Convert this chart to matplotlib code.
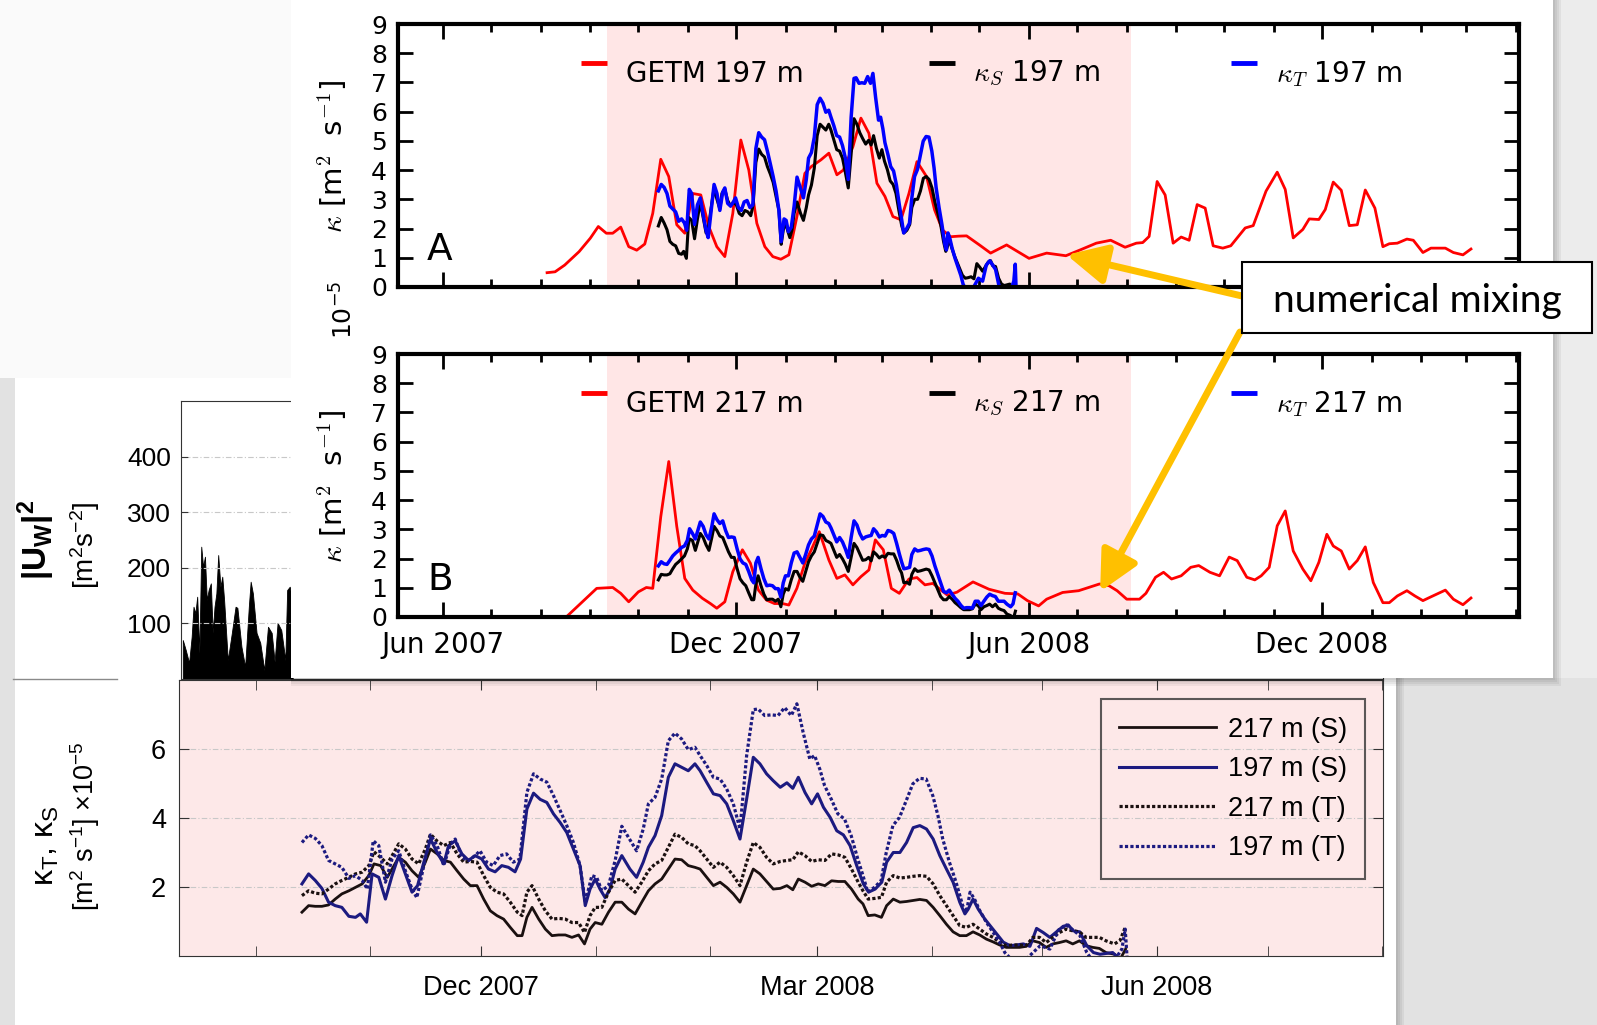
import datetime as dt
import numpy as np
import matplotlib
matplotlib.use('Agg')
import matplotlib.pyplot as plt
import matplotlib.dates as mdates
from matplotlib.patches import Rectangle
from matplotlib.lines import Line2D

W, H = 1597, 1025
t0 = mdates.date2num(dt.datetime(2007, 6, 1))   # day 0 of every series below

# ---------------- data: (days since 1 Jun 2007, value) ----------------
getm197 = np.array([
    (65, 0.49), (70, 0.52), (76, 0.75), (85, 1.21), (92, 1.67), (97, 2.07), (102, 1.84),
    (106, 1.84), (111, 2.05), (116, 1.38), (121, 1.26), (126, 1.47), (131, 2.52), (136, 4.37),
    (141, 3.78), (146, 2.13), (151, 1.84), (156, 3.2), (161, 3.15), (166, 2.07), (171, 1.38),
    (176, 1.04), (181, 2.52), (186, 5.03), (191, 4.0), (196, 2.18), (201, 1.38), (206, 1.04),
    (211, 0.95), (216, 1.1), (221, 2.4), (226, 3.89), (230, 4.12), (236, 4.35), (241, 4.58),
    (246, 3.84), (250, 4.0), (256, 4.8), (261, 5.78), (266, 5.26), (271, 3.55), (276, 3.1),
    (281, 2.41), (286, 2.3), (291, 3.2), (296, 4.29), (302, 3.78), (307, 2.64), (312, 1.95),
    (317, 1.72), (322, 1.74), (327, 1.75), (335, 1.44), (342, 1.16), (352, 1.44), (366, 0.98),
    (377, 1.16), (389, 1.07), (398, 1.27), (408, 1.5), (417, 1.6), (426, 1.36), (433, 1.5),
    (437, 1.52), (441, 1.73), (446, 3.61), (451, 3.15), (456, 1.5), (461, 1.71), (466, 1.6),
    (471, 2.82), (476, 2.7), (481, 1.41), (487, 1.33), (492, 1.41), (501, 2.02), (506, 2.1),
    (514, 3.28), (521, 3.93), (526, 3.34), (531, 1.68), (537, 1.97), (541, 2.33), (547, 2.31),
    (551, 2.65), (556, 3.59), (561, 3.31), (566, 2.1), (571, 2.13), (576, 3.32), (582, 2.7),
    (587, 1.38), (591, 1.48), (596, 1.5), (602, 1.64), (606, 1.6), (612, 1.18), (617, 1.33),
    (626, 1.33), (631, 1.18), (637, 1.1), (642, 1.3)])

getm217 = np.array([
    (76, -0.05), (96, 0.98), (106, 1.01), (111, 0.81), (116, 0.52), (122, 0.86), (127, 1.01),
    (131, 0.98), (136, 3.43), (141, 5.32), (146, 3.1), (151, 1.32), (156, 0.92), (162, 0.64),
    (167, 0.46), (171, 0.3), (176, 0.52), (181, 1.55), (187, 2.3), (192, 1.84), (197, 0.92),
    (202, 0.58), (207, 0.46), (212, 0.46), (216, 0.41), (221, 0.98), (226, 1.84), (230, 2.3),
    (235, 2.92), (241, 1.95), (246, 1.32), (251, 1.44), (256, 1.1), (261, 1.38), (266, 1.61),
    (270, 2.64), (275, 2.3), (280, 0.98), (285, 0.81), (291, 1.3), (296, 1.35), (301, 1.1),
    (306, 1.15), (311, 0.92), (315, 0.75), (321, 0.85), (331, 1.2), (341, 0.95), (351, 0.81),
    (359, 0.79), (365, 0.56), (372, 0.38), (377, 0.61), (387, 0.84), (397, 0.9), (410, 1.13),
    (416, 1.07), (421, 0.9), (427, 0.61), (435, 0.61), (439, 0.81), (445, 1.36), (450, 1.53),
    (455, 1.3), (461, 1.41), (467, 1.7), (472, 1.76), (479, 1.53), (485, 1.41), (491, 2.05),
    (496, 1.93), (502, 1.36), (507, 1.27), (511, 1.41), (516, 1.7), (521, 3.12), (526, 3.63),
    (531, 2.26), (537, 1.64), (542, 1.24), (547, 1.87), (552, 2.83), (556, 2.43), (561, 2.26),
    (566, 1.64), (571, 1.93), (576, 2.4), (581, 1.18), (587, 0.49), (591, 0.49), (596, 0.72),
    (602, 0.9), (607, 0.72), (612, 0.56), (617, 0.69), (626, 0.92), (631, 0.61), (637, 0.42),
    (642, 0.65)])

ks197 = np.array([
    (134.5, 2.09), (136.3, 2.38), (138.1, 2.19), (139.9, 1.96), (141.7, 1.56), (143.5, 1.46),
    (145.3, 1.41), (147.2, 1.15), (149, 1.12), (150.3, 1.22), (152, 0.98), (153.5, 2.38),
    (155.3, 2.28), (157.1, 1.65), (158.9, 2.33), (160.7, 2.91), (162.5, 2.38), (164.3, 1.85),
    (165.8, 2.04), (167.5, 2.72), (169.3, 3.39), (171.1, 3.0), (172.9, 2.67), (174.2, 3.2),
    (176, 3.34), (177.8, 2.96), (179.6, 2.77), (181.4, 2.91), (183.2, 2.81), (185, 2.52),
    (186.8, 2.44), (188.6, 2.62), (190.4, 2.57), (192.2, 2.44), (193.7, 2.81), (195.4, 4.26),
    (197.2, 4.72), (199, 4.54), (200.8, 4.45), (202.6, 4.12), (204.4, 3.87), (206.2, 3.58),
    (208, 3.1), (209.8, 2.62), (211.2, 1.46), (212.5, 1.94), (213.9, 2.23), (215.2, 1.94),
    (216.6, 1.69), (217.9, 1.94), (219.3, 2.52), (221.1, 2.91), (223.3, 2.52), (225.1, 2.28),
    (226.9, 2.72), (228.3, 3.15), (230.1, 3.49), (231.9, 4.07), (233.7, 5.18), (235.5, 5.57),
    (237.3, 5.47), (239.1, 5.37), (240.9, 5.57), (242.3, 5.37), (244.1, 5.03), (245.9, 4.7),
    (247.7, 4.65), (249.5, 4.41), (251.3, 3.92), (253.1, 3.39), (254.9, 4.55), (256.7, 5.76),
    (258.5, 5.57), (260.3, 5.28), (262.1, 5.08), (264, 4.89), (265.8, 5.02), (267.4, 4.86),
    (268.9, 5.18), (270.7, 4.74), (272.5, 4.41), (274.1, 4.7), (275.7, 4.31), (277.5, 4.02),
    (279.3, 3.63), (281.1, 3.51), (282.9, 3.2), (284.7, 2.62), (286.5, 2.09), (287.9, 1.85),
    (289.7, 1.94), (291.5, 2.14), (292.8, 2.72), (294.6, 3.0), (296.4, 3.0), (298.2, 3.29),
    (300, 3.72), (301.8, 3.78), (303.6, 3.68), (305.4, 3.39), (307.2, 2.91), (309, 2.52),
    (310.8, 2.14), (312.6, 1.56), (314, 1.22), (314.9, 1.36), (316.2, 1.65), (317.6, 1.36),
    (319.4, 1.07), (321.2, 0.83), (323, 0.59), (324.4, 0.4), (326.2, 0.3), (328, 0.32),
    (329.8, 0.35), (331.6, 0.28), (333.4, 0.8), (335.2, 0.68), (337, 0.54), (338.8, 0.7),
    (340.6, 0.86), (342, 0.9), (343.3, 0.73), (345.1, 0.7), (347, 0.3), (348.8, 0.1),
    (350.6, 0.05), (354, 0.1), (357, -0.2)])

kt197 = np.array([
    (134.5, 3.29), (136.3, 3.51), (138.1, 3.41), (139.9, 3.2), (141.7, 2.77), (143.5, 2.67),
    (145.3, 2.57), (147.2, 2.25), (149, 2.33), (150.8, 2.19), (152.2, 1.94), (153.8, 3.34),
    (155.3, 3.2), (157.1, 2.14), (158.9, 2.81), (160.7, 3.05), (162.5, 2.47), (164.3, 1.94),
    (165.6, 1.69), (167.5, 2.62), (169.3, 3.51), (171.1, 3.2), (172.9, 2.62), (174.7, 3.25),
    (176, 3.39), (177.8, 2.86), (179.6, 2.77), (181.4, 2.91), (182.7, 3.05), (184.5, 2.72),
    (186.3, 2.62), (188.1, 2.91), (189.9, 2.96), (191.7, 2.72), (193.5, 2.81), (195.4, 4.74),
    (197.2, 5.28), (199, 5.13), (200.8, 5.04), (202.6, 4.65), (204.4, 4.22), (206.2, 3.78),
    (208, 3.29), (209.8, 2.62), (211.2, 1.55), (213, 2.33), (214.3, 2.28), (215.7, 1.89),
    (217.5, 2.04), (219.3, 2.77), (221.1, 3.76), (222.9, 3.44), (225.1, 3.05), (226.9, 3.68),
    (228.3, 4.41), (230.1, 4.6), (231.9, 5.13), (233.7, 6.24), (235.5, 6.46), (237.3, 6.29),
    (239.1, 5.98), (240.9, 6.05), (242.3, 5.81), (244.1, 5.52), (245.9, 5.18), (247.7, 5.13),
    (249.5, 4.84), (251.3, 4.41), (253.1, 3.68), (254.9, 5.81), (256.7, 7.14), (258, 7.16),
    (259.8, 6.97), (261.6, 6.99), (263.4, 6.97), (265.2, 7.2), (267, 6.97), (268.5, 7.31),
    (270.2, 6.48), (272, 5.71), (273.3, 5.81), (274.7, 5.42), (276, 4.94), (277.8, 4.55),
    (279.6, 4.12), (281.4, 3.97), (283.2, 3.49), (285, 2.81), (286.4, 2.33), (287.7, 1.85),
    (289.5, 1.99), (291.3, 2.18), (292.7, 3.0), (294.5, 3.78), (296.3, 4.02), (298.1, 4.5),
    (299.9, 4.99), (301.7, 5.15), (303.5, 5.13), (305.3, 4.65), (306.7, 4.07), (308, 3.39),
    (309.8, 2.72), (311.6, 2.14), (313.4, 1.46), (314.4, 1.27), (315.4, 1.85), (316.6, 1.65),
    (318, 1.32), (319.8, 0.98), (321.6, 0.69), (323.4, 0.4), (324.8, 0.1), (326.6, -0.1),
    (330, -0.15), (334.4, 0.3), (337, 0.2), (339.3, 0.75), (341.5, 0.9), (343.3, 0.75),
    (345.1, 0.6), (347, 0.1), (349, -0.2), (354, -0.2), (356.5, 0.2), (357.4, 0.78),
    (358, -0.2)])

ks217 = np.array([
    (134.5, 1.27), (136.3, 1.46), (138.1, 1.44), (139.9, 1.44), (141.7, 1.48), (143.5, 1.65),
    (145.3, 1.8), (147.2, 1.89), (149, 1.99), (150.8, 2.09), (152.6, 2.33), (154, 2.67),
    (155.8, 2.62), (157.6, 2.28), (159.4, 2.62), (160.7, 2.86), (162.5, 2.72), (164.3, 2.47),
    (166.1, 2.28), (167.9, 2.72), (169.3, 3.1), (171.1, 2.96), (172.9, 2.77), (174.7, 2.72),
    (176.5, 2.47), (178.3, 2.23), (180.1, 2.04), (181.9, 2.04), (183.7, 1.65), (185.5, 1.31),
    (187.3, 1.17), (189.1, 1.07), (190.9, 0.83), (192.8, 0.59), (194.1, 0.59), (195.4, 1.12),
    (196.8, 1.41), (198.6, 1.07), (200.4, 0.78), (202.2, 0.59), (204, 0.61), (205.8, 0.61),
    (207.6, 0.54), (209.4, 0.61), (211, 0.35), (212.5, 0.78), (213.9, 0.97), (215.7, 0.92),
    (217.5, 1.27), (219.3, 1.56), (221.1, 1.56), (222.9, 1.36), (224.7, 1.22), (226.5, 1.56),
    (228.3, 1.89), (230.1, 2.09), (231.9, 2.23), (233.7, 2.52), (235.5, 2.81), (237.3, 2.79),
    (239.1, 2.62), (240.9, 2.57), (242.3, 2.52), (244.1, 2.28), (245.9, 2.04), (247.7, 2.14),
    (249.5, 1.99), (251.3, 1.8), (253.1, 1.56), (254.9, 2.04), (256.7, 2.52), (258.5, 2.38),
    (260.3, 2.16), (262.1, 1.94), (264, 1.96), (265.8, 2.04), (267.4, 1.92), (268.9, 2.23),
    (270.7, 2.14), (272.5, 2.02), (274.3, 2.09), (276.1, 2.04), (277.9, 2.18), (279.7, 2.16),
    (281.5, 2.16), (283.3, 1.94), (285.1, 1.65), (286.4, 1.51), (287.8, 1.17), (289.6, 1.19),
    (291.4, 1.12), (292.8, 1.46), (294.6, 1.65), (296.4, 1.56), (298.2, 1.58), (300, 1.61),
    (301.8, 1.64), (303.6, 1.61), (305.4, 1.41), (307.2, 1.17), (309, 0.92), (310.8, 0.7),
    (312.6, 0.59), (314.4, 0.59), (316.2, 0.7), (318, 0.61), (319.8, 0.49), (321.6, 0.41),
    (323.4, 0.32), (325.2, 0.25), (327, 0.25), (328.8, 0.25), (330.6, 0.28), (332.4, 0.44),
    (334.2, 0.39), (336, 0.25), (337.8, 0.35), (339.6, 0.39), (341.4, 0.44), (343.2, 0.35),
    (345, 0.44), (346.8, 0.3), (348.6, 0.25), (350.4, 0.22), (352.2, 0.1), (354.5, 0.05),
    (356, -0.1), (357.5, 0.2)])

kt217 = np.array([
    (134.5, 1.75), (136.3, 1.89), (138.1, 1.82), (139.9, 1.8), (141.7, 1.94), (143.5, 2.09),
    (145.3, 2.19), (147.2, 2.28), (149, 2.38), (150.8, 2.43), (152.6, 2.62), (154, 3.02),
    (155.8, 2.86), (157.6, 2.67), (159.4, 3.0), (160.7, 3.25), (162.5, 3.1), (164.3, 2.81),
    (166.1, 2.67), (167.9, 3.1), (169.3, 3.53), (171.1, 3.33), (172.9, 3.2), (174.7, 3.29),
    (176.5, 2.96), (178.3, 2.72), (180.1, 2.74), (181.9, 2.72), (183.7, 2.33), (185.5, 1.99),
    (187.3, 1.85), (189.1, 1.8), (190.9, 1.56), (192.8, 1.27), (194.1, 1.17), (195.4, 1.85),
    (196.8, 2.04), (198.6, 1.65), (200.4, 1.31), (202.2, 1.07), (204, 1.09), (205.8, 1.07),
    (207.6, 0.97), (209.4, 0.97), (211, 0.68), (212.5, 1.17), (213.9, 1.41), (215.7, 1.41),
    (217.5, 1.85), (219.3, 2.19), (221.1, 2.23), (222.9, 2.04), (224.7, 1.85), (226.5, 2.14),
    (228.3, 2.47), (230.1, 2.67), (231.9, 2.77), (233.7, 3.15), (235.5, 3.53), (237.3, 3.44),
    (239.1, 3.25), (240.9, 3.2), (242.3, 3.05), (244.1, 2.81), (245.9, 2.57), (247.7, 2.72),
    (249.5, 2.57), (251.3, 2.33), (253.1, 2.04), (254.9, 2.72), (256.7, 3.29), (258.5, 3.15),
    (260.3, 2.86), (262.1, 2.67), (264, 2.74), (265.8, 2.77), (267.4, 2.79), (268.9, 3.02),
    (270.7, 2.91), (272.5, 2.74), (274.3, 2.79), (276.1, 2.77), (277.9, 2.96), (279.7, 2.93),
    (281.5, 2.86), (283.3, 2.52), (285.1, 2.14), (286.4, 1.89), (287.8, 1.65), (289.6, 1.67),
    (291.4, 1.7), (292.8, 2.14), (294.6, 2.33), (296.4, 2.26), (298.2, 2.28), (300, 2.31),
    (301.8, 2.33), (303.6, 2.31), (305.4, 2.09), (307.2, 1.75), (309, 1.46), (310.8, 1.17),
    (312.6, 0.88), (314.4, 0.83), (316.2, 0.92), (318, 0.78), (319.8, 0.64), (321.6, 0.54),
    (323.4, 0.4), (325.2, 0.3), (327, 0.32), (328.8, 0.32), (330.6, 0.3), (332.4, 0.54),
    (334.2, 0.54), (336, 0.39), (337.8, 0.54), (339.6, 0.68), (341.4, 0.78), (343.2, 0.73),
    (345, 0.7), (346.8, 0.54), (348.6, 0.54), (350.4, 0.54), (352.2, 0.44), (354.5, 0.35),
    (356, 0.45), (357.4, 0.83)])

# |U_W|^2, only the part left of the overlapping panel is visible
wind = np.array([
    (101.7, 70), (102.5, 52), (103.4, 29), (104.1, 76), (104.6, 130), (105.1, 118),
    (105.6, 148), (106.2, 47), (106.7, 238), (107.2, 202), (107.7, 220), (108.2, 142),
    (108.7, 160), (109.3, 172), (109.8, 83), (110.3, 130), (110.8, 154), (111.3, 223),
    (111.9, 166), (112.4, 184), (112.9, 142), (113.9, 34), (115, 83), (116, 130),
    (116.5, 128), (117.6, 58), (118.6, 22), (119.6, 130), (120.1, 175), (120.7, 154),
    (121.7, 83), (122.7, 65), (123.8, 16), (124.8, 94), (125.8, 83), (126.6, 31),
    (127.4, 101), (128.4, 88), (129.5, 34), (130, 160), (130.7, 166), (131.5, 140)])

shade_days = (102.6, 429.7)
legend_top = [('GETM 197 m', r'$\kappa_S$ 197 m', r'$\kappa_T$ 197 m'),
              ('GETM 217 m', r'$\kappa_S$ 217 m', r'$\kappa_T$ 217 m')]

plt.rcParams['mathtext.rm'] = 'Liberation Sans'
plt.rcParams['mathtext.it'] = 'Liberation Sans:italic'
plt.rcParams['mathtext.bf'] = 'Liberation Sans:bold'

fig = plt.figure(figsize=(W / 100, H / 100), dpi=100)
fig.patch.set_facecolor('#e2e2e2')


def fbox(x0, y0, x1, y1):
    return [x0 / W, 1 - y1 / H, (x1 - x0) / W, (y1 - y0) / H]


def frect(x0, y0, x1, y1, z, **kw):
    fig.add_artist(Rectangle((x0 / W, 1 - y1 / H), (x1 - x0) / W, (y1 - y0) / H,
                             transform=fig.transFigure, zorder=z, **kw))


def ftext(x, y, s, **kw):
    fig.text(x / W, 1 - y / H, s, ha='center', va='center', **kw)


# slide background pieces
frect(0, 0, 291, 378, -40, fc='#fafafa', ec='none')
frect(1553, 0, W, 678, -40, fc='#ececec', ec='none')
for k in range(1, 5):
    frect(14.5, 378, 1396 + 2 * k, H, -39, fc='k', ec='none', alpha=0.05)
frect(14.5, 378, 1396, H, -38, fc='white', ec='none')
fig.add_artist(Line2D([13 / W, 117 / W], [1 - 679 / H] * 2, transform=fig.transFigure,
                      color='#8a8a8a', lw=1, zorder=-37))
for k in range(1, 5):
    frect(291, 0, 1553 + 2 * k, 678 + 2 * k, -9, fc='k', ec='none', alpha=0.05)
frect(291, 0, 1553, 678, -8, fc='white', ec='none')

# ---------------- back figure: wind stress ----------------
sans = 'Liberation Sans'
ax_w = fig.add_axes(fbox(180.6, 401, 1383, 679))
ax_w.set_zorder(-20)
ax_w.fill_between(t0 + wind[:, 0], 0, wind[:, 1], color='k', lw=0.6)
ax_w.set_xlim(t0 + 101.1, t0 + 427.2)
ax_w.set_ylim(0, 500)
ax_w.set_yticks([100, 200, 300, 400])
ax_w.yaxis.grid(True, color='#c8c8c8', ls=(0, (5, 2, 1, 2)), lw=0.8)
ax_w.tick_params(axis='y', direction='in', length=5, labelsize=19, pad=7,
                 labelfontfamily=sans, color='#333333')
ax_w.tick_params(axis='x', bottom=False, labelbottom=False)
for s in ax_w.spines.values():
    s.set_color('#333333')
ftext(36, 540, r'$\mathbf{|U_W|^2}$', rotation=90, fontsize=24,
      family=sans, math_fontfamily='custom', zorder=-19)
ftext(85, 545, '[m$^2$s$^{-2}$]', rotation=90, fontsize=20,
      family=sans, math_fontfamily='custom', zorder=-19)

# ---------------- back figure: kappa_T, kappa_S ----------------
navy = '#1c1a80'
dark = '#1a1010'
dots = (0, (1, 0.7))
ax_k = fig.add_axes(fbox(178.6, 680, 1383, 956))
ax_k.set_zorder(-20)
ax_k.set_facecolor('#fde8e8')
ax_k.plot(t0 + ks217[:, 0], ks217[:, 1], color=dark, lw=2.0, label='217 m (S)')
ax_k.plot(t0 + ks197[:, 0], ks197[:, 1], color=navy, lw=2.2, label='197 m (S)')
ax_k.plot(t0 + kt217[:, 0], kt217[:, 1], color=dark, lw=2.3, ls=dots, label='217 m (T)')
ax_k.plot(t0 + kt197[:, 0], kt197[:, 1], color=navy, lw=2.3, ls=dots, label='197 m (T)')
ax_k.set_xlim(t0 + 101.1, t0 + 427.2)
ax_k.set_ylim(0, 8)
ax_k.set_yticks([2, 4, 6])
ax_k.yaxis.grid(True, color='#c8c8c8', ls=(0, (5, 2, 1, 2)), lw=0.8)
ax_k.xaxis.set_major_locator(mdates.MonthLocator(bymonth=[3, 6, 9, 12]))
ax_k.xaxis.set_minor_locator(mdates.MonthLocator())
ax_k.xaxis.set_major_formatter(mdates.DateFormatter('%b %Y'))
ax_k.tick_params(which='both', direction='in', top=True, right=True, length=7,
                 color='#333333', labelsize=19.5, labelfontfamily=sans)
ax_k.tick_params(axis='x', pad=14)
ax_k.tick_params(axis='y', pad=9)
for s in ax_k.spines.values():
    s.set_color('#333333')
leg = ax_k.legend(loc='upper right', bbox_to_anchor=(1365 / W, 1 - 699 / H),
                  bbox_transform=fig.transFigure, borderaxespad=0, fancybox=False,
                  edgecolor='#333333', facecolor='none', framealpha=None,
                  prop={'family': sans, 'size': 19.5}, handlelength=3.6,
                  handletextpad=0.45, labelspacing=0.5, borderpad=0.65)
leg.get_frame().set_linewidth(1.5)
ftext(46, 846, r'κ$_\mathrm{T}$, κ$_\mathrm{S}$', rotation=90, fontsize=23,
      family=sans, math_fontfamily='custom', zorder=-19)
ftext(85, 826, r'[m$^\mathrm{2}$ s$^\mathrm{-1}$] ×10$^\mathrm{-5}$', rotation=90, fontsize=19.5,
      family=sans, math_fontfamily='custom', zorder=-19)

# ---------------- front figure: panels A and B ----------------
panels = [(24, 287, getm197, ks197, kt197, 'A', legend_top[0], 157),
          (354, 617, getm217, ks217, kt217, 'B', legend_top[1], 487)]
for top, bot, getm, ks, kt, tag, labels, ylab_y in panels:
    ax = fig.add_axes(fbox(398, top, 1519, bot))
    ax.axvspan(t0 + shade_days[0], t0 + shade_days[1], color='#ffe6e6', lw=0, zorder=0)
    ax.plot(t0 + getm[:, 0], getm[:, 1], color='red', lw=2.0)
    ax.plot(t0 + ks[:, 0], ks[:, 1], color='black', lw=2.2)
    ax.plot(t0 + kt[:, 0], kt[:, 1], color='blue', lw=2.5)
    ax.set_xlim(t0 - 28.1, t0 + 672)
    ax.set_ylim(0, 9)
    ax.set_yticks(range(10))
    ax.xaxis.set_major_locator(mdates.MonthLocator(bymonth=[6, 12]))
    ax.xaxis.set_minor_locator(mdates.MonthLocator())
    ax.xaxis.set_major_formatter(mdates.DateFormatter('%b %Y'))
    ax.tick_params(which='both', direction='in', top=True, right=True, width=2)
    ax.tick_params(which='major', length=11)
    ax.tick_params(which='minor', length=6)
    ax.tick_params(axis='y', labelsize=18, pad=8)
    ax.tick_params(axis='x', labelsize=20, pad=10)
    if tag == 'A':
        ax.tick_params(axis='x', labelbottom=False)
    for s in ax.spines.values():
        s.set_linewidth(3)
    ax.text(0.026, 0.14, tag, transform=ax.transAxes, fontsize=27, ha='left', va='center')
    # legend row: short handle sitting above each label
    for col, hx, tx, lab in zip(['red', 'black', 'blue'], [0.163, 0.474, 0.743],
                                [0.203, 0.513, 0.783], labels):
        ax.plot([hx, hx + 0.023], [0.852, 0.852], color=col, lw=3.5,
                transform=ax.transAxes, solid_capstyle='butt')
        ax.text(tx, 0.81, lab, transform=ax.transAxes, fontsize=20, va='center',
                math_fontfamily='cm')
    ftext(332, ylab_y, r'$\kappa$ [m$^2$  s$^{-1}$]', rotation=90, fontsize=21,
          math_fontfamily='cm')
    if tag == 'A':
        ax_a = ax
    else:
        ax_b = ax

ftext(344, 310, r'10$^{-5}$', rotation=90, fontsize=18, math_fontfamily='dejavusans')

# ---------------- annotation ----------------
gold = dict(arrowstyle='-|>,head_length=1.2,head_width=0.6', color='#ffc000', lw=5,
            mutation_scale=20, shrinkA=0, shrinkB=0)
ax_a.annotate('', xy=(t0 + 389.4, 1.1), xytext=(1242, H - 296),
              textcoords='figure pixels', arrowprops=gold)
ax_b.annotate('', xy=(t0 + 410.4, 0.87), xytext=(1240, H - 332),
              textcoords='figure pixels', arrowprops=gold)
frect(1242, 262, 1592, 333, 10, fc='white', ec='black', lw=1.5)
fig.text(1417 / W, 1 - 301 / H, 'numerical mixing', ha='center', va='center',
         fontsize=28, family='Lato', zorder=11)

fig.savefig('out.png', dpi=100, facecolor=fig.get_facecolor())
